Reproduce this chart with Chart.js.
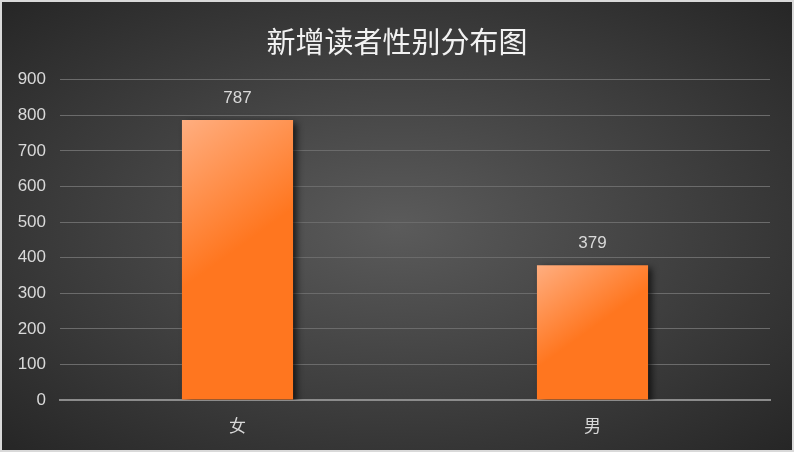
<!DOCTYPE html>
<html>
<head>
<meta charset="utf-8">
<script src="https://cdn.jsdelivr.net/npm/chart.js@4"></script>
<style>
  html, body { margin: 0; padding: 0; background: #ffffff; }
  #wrap {
    position: absolute; left: 0; top: 0;
    width: 794px; height: 452px;
    box-sizing: border-box;
    border: 2px solid #d9d9d9;
    background: radial-gradient(ellipse farthest-corner at 50% 50%, #5b5b5b 0%, #262626 100%);
  }
  #wrap canvas { display: block; }
</style>
</head>
<body>
<div id="wrap"><canvas id="gender-chart" width="790" height="448"></canvas></div>
<script>
const categories = ['女', '男'];
const readerCounts = [787, 379];
const yTicks = [0, 100, 200, 300, 400, 500, 600, 700, 800, 900];

const fontFamily = "'Liberation Sans', 'Noto Sans CJK SC', sans-serif";
const barPct = 0.313;

// gradiente diagonal en cada barra, calculado con las escalas
function barGradient(context) {
    const chart = context.chart;
    const xs = chart.scales.x, ys = chart.scales.y;
    if (!xs || !ys || !chart.chartArea || context.dataIndex === undefined) return '#ff761f';
    const w = (xs.width / categories.length) * barPct;
    const left = xs.getPixelForValue(context.dataIndex) - w / 2;
    const top = ys.getPixelForValue(context.raw);
    const h = ys.getPixelForValue(0) - top;
    const k = 0.25 + h * 0.00268;
    const g = chart.ctx.createLinearGradient(left, top, left + 80 * k, top + 111 * k);
    g.addColorStop(0, '#ffae80');
    g.addColorStop(1, '#ff761f');
    return g;
}

const barShadow = {
    id: 'barShadow',
    beforeDatasetsDraw(chart) {
        const ctx = chart.ctx;
        ctx.save();
        ctx.shadowColor = 'rgba(0, 0, 0, 0.7)';
        ctx.shadowBlur = 7;
        ctx.shadowOffsetX = 4;
        ctx.shadowOffsetY = 3;
    },
    afterDatasetsDraw(chart) {
        chart.ctx.restore();
    }
};

const valueLabels = {
    id: 'valueLabels',
    afterDraw(chart) {
        const ctx = chart.ctx;
        const meta = chart.getDatasetMeta(0);
        ctx.save();
        ctx.fillStyle = '#d9d9d9';
        ctx.font = '17px ' + fontFamily;
        ctx.textAlign = 'center';
        ctx.textBaseline = 'middle';
        meta.data.forEach((bar, i) => {
            ctx.fillText(String(chart.data.datasets[0].data[i]), bar.x, bar.y - 22);
        });
        ctx.restore();
    }
};

new Chart(document.getElementById('gender-chart'), {
    type: 'bar',
    data: {
        labels: categories,
        datasets: [{
            label: '新增读者',
            data: readerCounts,
            backgroundColor: barGradient,
            borderWidth: 0,
            categoryPercentage: 1,
            barPercentage: barPct,
        }]
    },
    options: {
        responsive: false,
        animation: false,
        layout: { padding: 0 },
        plugins: {
            legend: { display: false },
            tooltip: { enabled: false },
            title: {
                display: true,
                text: '新增读者性别分布图',
                color: '#f2f2f2',
                font: { size: 29, family: fontFamily, weight: 'normal' },
                padding: { top: 26, bottom: 17 },
            }
        },
        scales: {
            x: {
                grid: { display: false },
                border: { display: true, color: '#8c8c8c', width: 2 },
                ticks: {
                    color: '#d9d9d9',
                    font: { size: 17, family: fontFamily },
                    padding: 9,
                },
                afterFit(scale) { scale.height = 50; }
            },
            y: {
                min: 0,
                max: 900,
                afterBuildTicks(scale) {
                    scale.ticks = yTicks.map(v => ({ value: v }));
                },
                grid: { color: '#6b6b6b', lineWidth: 1, drawTicks: false },
                border: { display: false },
                ticks: {
                    color: '#d9d9d9',
                    font: { size: 17, family: fontFamily },
                    padding: 14,
                },
                afterFit(scale) { scale.width = 58; }
            },
            // eje vacío a la derecha, solo para dejar el margen sin mover el título
            yRight: {
                position: 'right',
                grid: { display: false },
                border: { display: false },
                ticks: { display: false },
                afterFit(scale) { scale.width = 22; }
            }
        }
    },
    plugins: [barShadow, valueLabels]
});
</script>
</body>
</html>
